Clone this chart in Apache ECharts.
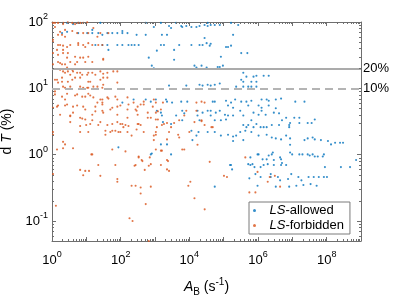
<!DOCTYPE html>
<html><head><meta charset="utf-8">
<script src="https://cdn.jsdelivr.net/npm/echarts@6/dist/echarts.min.js"></script>
<style>html,body{margin:0;padding:0;background:#fff}#c{width:399px;height:299px}</style>
</head><body><div id="c"></div>
<script>
// LS-allowed transitions: [A_B (s^-1), dT (%)]
const allowed = [
[2.75,97],[4.1,93],[5.8,97],[25.6,97],[537,97],[924,84],[1486,97],[2563,87],[2937,81],[4129,97],[5800,87],[6213,84],[8160,87],[1.15e4,84],[1.61e4,84],[1.98e4,87],[2.78e4,90],[3.42e4,87],[3.42e4,97],[4.19e4,90],[5.5e4,90],[7.7e4,90],[1.64e5,97],[2.65e5,90],[1.88e5,64],
[1.96,68],[2.75,71],[5.8,68],[10.6,68],[14.9,68],[14.9,76],[22.3,68],[29.3,64],[41,68],[57,68],[80,68],[112,68],[158,68],[112,73],[291,64],[537,64],[1592,64],[2237,64],
[18.3,45],[29.3,45],[41,45],[80,45],[112,45],[169,45],[208,45],[254,45],[334,45],[1486,45],[1824,45],[5067,45],[1.15e4,45],[1.98e4,45],[2.43e4,45],[3.19e4,48],[2.78e4,57.5],[4.19e4,47],[3.92e4,44],[1.17e5,42],[1.34e5,42],[1.64e5,44],[44,38],
[1133,37],[3603,38],[658,29],[3603,27],[8.3e4,30],[3.25e5,34],[4.9e5,34],
[807,22],[924,20],[1.41e4,22],[2.27e4,22],[1.61e4,20.5],[3.19e4,20.5],[6.7e4,21],[7.7e4,21],[9.5e4,22],
[3.73e5,17.2],[3.25e5,13.5],[3.73e5,12.6],[4.6e5,15],[7.4e5,15],[9.0e5,15.5],[1.46e6,15.5],[2.05e6,15.5],[6.4e5,12.6],[9.0e5,12.6],
[2563,11],[8160,11],[1.98e4,11.3],[2.43e4,11],[3.42e4,11.3],[4.19e4,11],[5.5e4,11.3],[7.7e4,11.8],[2.31e5,10.6],[3.73e5,10.6],[5.2e5,10.6],[6.4e5,10.6],[9.0e5,10.6],
[112,6.1],[238,6.8],[537,6.8],[754,6.3],[1058,6.8],[2090,6.8],[2237,6.3],[3144,6.1],[5800,6.3],[8730,6.3],[1133,4.6],[1486,4.3],[1592,3.9],[4129,3.9],[6213,4.6],[7120,4.2],[1.73e4,4.6],[2.43e4,4.3],[1.73e4,3.9],[3.42e4,4.6],[1.98e4,3.3],[6213,3.3],[1704,3.1],[2937,2.9],[1.15e4,2.3],[1.61e4,1.94],[1.23e4,1.66],[1.85e4,2.2],[3.42e4,2.2],[1486,1.43],[2237,1.43],[2937,1.01],[754,1.01],[807,1.04],[86,1.29],
[4.8e4,6.3],[5.5e4,6.3],[1.17e5,6.5],[1.64e5,6.1],[2.16e5,6.8],[3.25e5,6.3],[4.6e5,6.3],[6.4e5,6.5],[1.27e6,6.8],[1.79e6,6.8],[2.05e6,6.5],[3.3e6,6.8],[4.7e6,7.0],[1.34e5,5.5],[1.88e5,5.1],[5.2e5,5.5],[1.04e6,5.5],[1.27e6,5.1],[2.05e6,5.5],[3.3e6,5.0],
[4.19e4,4.6],[5.9e4,4.3],[7.7e4,4.6],[1.09e5,4.0],[1.34e5,3.9],[1.88e5,3.9],[3.04e5,4.6],[3.73e5,3.9],[7.4e5,4.3],[1.04e6,4.0],[1.27e6,4.6],[1.67e6,4.0],[2.89e6,4.3],[4.1e6,4.2],[6.6e6,3.6],
[4.19e4,3.9],[5.5e4,3.3],[8.3e4,3.3],[1.17e5,3.4],[6.4e5,3.3],[9.0e5,2.9],[5.0e6,3.3],[3.73e5,2.8],[4.6e5,2.6],[5.2e5,2.8],[7.4e5,2.6],[1.19e6,2.6],[1.46e6,2.6],[1.79e6,2.6],[2.52e6,2.8],[4.1e6,2.8],[8.1e6,2.8],
[5.5e4,2.2],[8.3e4,1.94],[1.34e5,2.0],[1.88e5,1.88],[2.31e5,1.94],[3.04e5,2.2],[4.27e5,2.3],[6.4e5,2.2],[1.04e6,1.94],[1.79e6,2.0],[2.52e6,1.82],[3.3e6,1.76],[4.7e6,1.7],[6.6e6,1.94],[1.88e5,1.61],[3.73e5,1.66],
[1.04e6,1.01],[2.05e6,0.97],[2.52e6,1.01],[1.79e6,0.85],[2.89e6,0.83],[5.2e5,0.72],[6.0e5,0.70],[1.64e5,0.70],[1.46e6,0.70],[2.89e6,0.70],[4.7e6,0.70],[5.0e6,0.75],[6.6e6,0.70],
[1.22e7,6.3],[2.26e7,6.3],[1.14e7,3.6],[1.6e7,3.6],[8.6e6,3.0],[1.6e7,3.0],[2.8e7,3.0],[3.65e7,3.0],[4.5e7,3.4],[8.1e6,2.6],[8.6e6,1.76],[2.26e7,1.66],[2.8e7,1.76],[3.9e7,1.82],[4.5e7,1.7],[6.8e7,1.66],[1.09e8,1.61],[1.34e8,1.43],[1.76e8,1.51],[2.45e8,1.51],[3.0e8,1.51],[8.6e6,1.41],
[8.6e6,1.08],[9.9e6,1.01],[1.6e7,1.01],[1.97e7,1.01],[2.8e7,1.01],[3.9e7,1.01],[3.2e7,0.97],[4.5e7,0.94],[5.5e7,0.94],[7.7e7,0.94],[8.3e7,1.01],[8.9e7,0.65],[2.6e8,0.65],[4.8e8,0.65],[7.2e8,0.83],
[9.7e5,1.01],[2.7e6,1.08],[4.7e6,0.85],[6.0e5,0.91],[6.9e5,0.72],[1.92e6,0.72],[7.9e5,0.65],[1.19e6,0.65],[5.6e5,0.44],[8.4e5,0.51],[1.19e6,0.46],[2.35e6,0.46],[2.35e6,0.51],[3.8e6,0.46],[4.4e6,0.41],[7.5e6,0.43],[9.3e6,0.51],[1.5e7,0.46],[1.84e7,0.41],[2.97e7,0.46],[4.2e7,0.46],[5.9e7,0.46],[8.3e7,0.46],[1.02e8,0.46],
[1.31e7,0.34],[2.1e7,0.35],[3.4e7,0.36],[5.1e7,0.34],[5.5e4,0.33],[9.7e5,0.34],[8.1e6,0.33],[3.3e6,0.33],[1.53e5,0.70],[1.76e5,0.60],[1.36e6,0.85],[4.4e6,0.91]
];
// LS-forbidden transitions: [A_B (s^-1), dT (%)]
const forbidden = [
[1.07,97],[1.22,97],[1.5,97],[2.1,97],[2.9,99],[3.9,97],[4.7,93],[5.8,97],[6.6,97],[8.1,97],[10.6,99],[1.22,84],[2.1,93],
[1.72,71],[2.4,76],[3.9,73],[5.4,68],[8.1,68],[11.4,68],[16,81],[21,60],[25.6,68],[44,68],[1.5,64],[1.96,64],[2.4,60],[1.07,54],[1.07,50],
[1.5,45],[1.72,45],[2.1,44],[2.75,42],[3.4,45],[5.8,48],[5.8,45],[8.1,45],[9.3,42],[11.4,48],[14.9,45],[22.3,45],[29.3,45],[1.4,38],[2.1,38],
[1.07,34],[1.5,32],[2.1,34],[2.9,34],[2.75,29],[4.7,30],[6.6,29],[8.1,29],[11.4,30],[31,28],[31,27],[1.5,25],[1.72,24],[3.4,25],[5.4,25],[9.3,25],[14.9,25],
[1.07,23],[1.96,23],[2.4,23],[4.7,23],[2.75,20.5],[1.72,19],[3.9,19],[2.1,18],[2.9,18],[2.4,17.2],[4.1,18],[5.4,17.2],[6.6,17.2],[3.4,16],[7.6,16],[10.6,16],[11.4,17.2],[14.9,17.2],[18.3,16],[25.6,18],[31,16.6],[41,17.2],[61,18],[80,18],
[1.4,13.5],[1.22,13.5],[1.96,14.5],[1.96,12.6],[2.9,12.6],[3.9,13.5],[4.7,14.5],[6.6,14.5],[11.4,12.6],[13,12.6],[25.6,13.5],[31,14.5],[41,14.5],[1.5,12.2],
[2.1,10.6],[2.4,10.2],[3.4,10.6],[6.6,10.6],[8.1,10.2],[10.6,10.2],[11.4,10.2],[16,10.6],[21,10.6],[29.3,10.2],[31,11.3],[80,12.2],
[1.22,9.0],[1.22,8.1],[1.96,7.5],[2.75,8.3],[4.7,7.8],[5.4,8.1],[7.6,7.5],[9.3,7.5],[11.4,8.3],[13,7.8],[16,7.3],[25.6,6.8],[29.3,6.8],[41,7.3],[44,7.0],[70,7.5],[80,6.8],[158,7.3],[2.4,6.8],
[1.07,5.1],[1.4,5.3],[1.5,5.5],[2.4,5.5],[2.75,5.7],[4.1,5.3],[5.4,5.5],[8.1,5.3],[9.3,4.8],[18.3,5.3],[21,6.1],[29.3,6.1],[29.3,5.7],[50,4.8],[57,5.1],[80,5.3],[98,5.5],[158,4.8],[169,5.7],[238,6.1],[312,5.3],[382,5.7],[469,6.3],[469,5.7],[863,5.3],[924,6.8],[1058,6.1],[1704,6.1],[1486,4.8],[272,4.8],[291,4.6],
[1.72,4.0],[3.4,3.8],[4.1,4.3],[3.4,3.9],[6.6,3.6],[7.6,3.5],[9.3,3.4],[14.9,4.0],[18.3,4.5],[29.3,4.6],[31,4.3],[80,4.0],[158,3.6],[312,4.0],[615,4.3],[1058,4.3],[1213,4.5],[615,3.6],[754,3.6],[1058,3.4],[1213,3.4],
[3.4,3.1],[6.6,2.7],[9.9,2.8],[13,2.9],[14.9,3.3],[22.3,2.8],[25.6,3.1],[41,2.8],[57,2.9],[80,3.1],[98,2.9],[112,2.9],[138,2.8],[120,2.6],[169,2.7],[312,2.9],[334,2.9],[382,2.8],[291,2.4],[1133,2.6],[1592,2.8],[1824,2.9],[2237,3.0],[2937,2.6],[3603,3.0],[5067,3.3],[7120,3.9],[8160,4.6],[1.61e4,4.6],[1.41e4,3.1],[2.27e4,3.3],[2.78e4,2.8],[2.78e4,6.1],[1.61e4,6.1],[4.8e4,2.6],[2.27e4,6.3],[2.27e4,3.2],[4.4e4,2.6],
[1.07,2.0],[1.07,2.2],[6.6,2.2],[11.4,2.2],[36,2.3],[57,2.3],[70,2.3],[50,2.2],[86,2.2],[98,2.2],[158,2.2],[208,1.94],[469,2.2],[924,1.94],[1058,2.0],[1058,2.2],[2563,2.2],[4733,2.0],[5067,1.82],[1.0e4,2.2],[36,2.0],[924,1.66],[2237,1.7],
[2.1,1.56],[2.4,1.43],[1.4,1.2],[2.1,1.25],[4.1,1.25],[57,1.2],[138,1.12],[14.9,1.01],[14,1.01],[1.73e4,1.41],[7120,1.2],[1592,1.15],[1058,1.2],[1486,1.15],[6213,1.2],
[334,0.91],[409,0.83],[754,0.72],[272,0.70],[2237,0.83],[1486,0.70],[334,0.94],[704,0.91],[430,0.80],[254,0.68],[658,0.68],[22.3,0.70],[70,0.70],[2394,0.80],[2237,0.60],[2563,0.57],[502,0.59],
[6.6,0.59],[8.1,0.49],[9.3,0.57],[12,0.57],[25.6,0.48],[80,0.43],[80,0.39],[208,0.34],[272,0.34],[382,0.32],[382,0.26],[754,0.33],[9350,0.34],[1.07e4,0.39],[1.41e4,0.22],[537,0.18],[1.07,0.51],[1.3,0.17],[181,0.11],[222,0.10],[658,0.05],
[3.92e4,0.78],[1.02e5,0.48],[1.25e5,0.46],[4.27e5,0.91],[9.7e5,0.55],[2.2e6,0.46],[3.1e6,0.48],[1.92e6,0.39],[5.6e5,0.27],[8.4e5,0.27],[2.8e4,0.15],[4.4e6,0.33]
];
const seriesNames = ['LS-allowed', 'LS-forbidden'];
const refLineValues = [20, 10];
const refLineLabels = ['20%', '10%'];
const xRange = [1, 1e9];
const yRange = [0.05, 100];
const xLabelStep = 2;   // label every 2nd decade on x
const yLabelStep = 1;   // label every decade on y

const FONT = 'Liberation Sans, Arial, Helvetica, sans-serif';
const AX = '#6e6e6e';

function powLabel(step) {
  return function (v) {
    const e = Math.log10(v);
    const r = Math.round(e);
    if (Math.abs(e - r) > 1e-6 || r % step !== 0) return '';
    return '{b|10}{s|' + r + '}';
  };
}
const labelRich = {
  b: { fontSize: 13, fontFamily: FONT, color: '#000', lineHeight: 20, verticalAlign: 'middle' },
  s: { fontSize: 9, fontFamily: FONT, color: '#000', lineHeight: 20, verticalAlign: 'top' }
};

// minor tick positions (2..9 x 10^k) for the log axes
const minorTicks = [];
for (let k = 0; k < 9; k++) for (let m = 2; m <= 9; m++) minorTicks.push([m * Math.pow(10, k), 1, 0]);
for (let k = -2; k < 2; k++) for (let m = 2; m <= 9; m++) { const v = m * Math.pow(10, k); if (v > yRange[0] && v < yRange[1]) minorTicks.push([10, v, 1]); }

const chart = echarts.init(document.getElementById('c'), null, { renderer: 'canvas' });
const baseX = {
  type: 'log', logBase: 10, min: xRange[0], max: xRange[1],
  axisLine: { show: true, lineStyle: { color: AX, width: 1 } },
  axisTick: { show: true, inside: true, length: 4, lineStyle: { color: AX } },
  splitLine: { show: false }
};
const baseY = {
  type: 'log', logBase: 10, min: yRange[0], max: yRange[1],
  axisLine: { show: true, lineStyle: { color: AX, width: 1 } },
  axisTick: { show: true, inside: true, length: 4, lineStyle: { color: AX } },
  splitLine: { show: false }
};

chart.setOption({
  animation: false,
  backgroundColor: '#fff',
  grid: { left: 52, right: 38, top: 22, bottom: 58, containLabel: false, outerBoundsMode: 'none' },
  xAxis: [
    Object.assign({}, baseX, {
      position: 'bottom',
      axisLabel: { show: true, formatter: powLabel(xLabelStep), rich: labelRich, margin: 9, showMinLabel: true, showMaxLabel: true, hideOverlap: false },
      name: '{i|A}{sub|B} (s{sup|-1})', nameLocation: 'middle', nameGap: 36,
      nameTextStyle: { fontSize: 14, fontFamily: FONT, color: '#000',
        rich: { i: { fontStyle: 'italic', fontSize: 14, fontFamily: FONT, color: '#000', lineHeight: 20, verticalAlign: 'middle' },
                sub: { fontSize: 10, fontFamily: FONT, color: '#000', lineHeight: 20, verticalAlign: 'bottom' },
                sup: { fontSize: 10, fontFamily: FONT, color: '#000', lineHeight: 20, verticalAlign: 'top' } } }
    }),
    Object.assign({}, baseX, { position: 'top', axisLabel: { show: false } })
  ],
  yAxis: [
    Object.assign({}, baseY, {
      position: 'left',
      axisLabel: { show: true, formatter: powLabel(yLabelStep), rich: labelRich, margin: 4, hideOverlap: false },
      name: 'd {i|T} (%)', nameLocation: 'middle', nameGap: 38, nameRotate: 90,
      nameTextStyle: { fontSize: 14, fontFamily: FONT, color: '#000',
        rich: { i: { fontStyle: 'italic', fontSize: 14, fontFamily: FONT, color: '#000' } } }
    }),
    Object.assign({}, baseY, { position: 'right', axisLabel: { show: false } })
  ],
  legend: {
    show: true, data: seriesNames, orient: 'vertical', left: 249, top: 202,
    backgroundColor: '#fff', borderColor: '#7a7a7a', borderWidth: 1, borderRadius: 0,
    padding: [2, 6, 2, 4], itemGap: 2, itemWidth: 20, itemHeight: 3, icon: 'circle',
    formatter: function (n) { return n.replace('LS', '{i|LS}'); },
    textStyle: { fontSize: 13, fontFamily: FONT, color: '#000',
      rich: { i: { fontStyle: 'italic', fontSize: 13, fontFamily: FONT, color: '#000' } } }
  },
  series: [
    {
      name: seriesNames[0], type: 'scatter', data: allowed, symbol: 'circle', symbolSize: 2.1,
      itemStyle: { color: '#0072BD' }, xAxisIndex: 0, yAxisIndex: 0, z: 3,
      markLine: {
        silent: true, symbol: 'none', animation: false,
        label: { show: true, position: 'end', color: '#000', fontSize: 13, fontFamily: FONT, distance: 2 },
        data: [
          { yAxis: refLineValues[0], label: { formatter: refLineLabels[0] }, lineStyle: { color: '#ababab', width: 2, type: 'solid' } },
          { yAxis: refLineValues[1], label: { formatter: refLineLabels[1] }, lineStyle: { color: '#b4b4b4', width: 2, type: [8, 5] } }
        ]
      }
    },
    {
      name: seriesNames[1], type: 'scatter', data: forbidden, symbol: 'circle', symbolSize: 2.1,
      itemStyle: { color: '#D95319' }, xAxisIndex: 0, yAxisIndex: 0, z: 4
    },
    {
      name: 'minorTicks', type: 'custom', data: minorTicks, clip: false, silent: true, z: 5,
      xAxisIndex: 0, yAxisIndex: 0, encode: { x: 0, y: 1 },
      renderItem: function (params, api) {
        const kind = api.value(2);
        const st = { stroke: AX, lineWidth: 1 };
        if (kind === 0) {
          const v = api.value(0);
          const pb = api.coord([v, yRange[0]]);
          const pt = api.coord([v, yRange[1]]);
          const x = Math.round(pb[0]) + 0.5;
          return { type: 'group', children: [
            { type: 'line', shape: { x1: x, y1: pb[1], x2: x, y2: pb[1] - 2 }, style: st },
            { type: 'line', shape: { x1: x, y1: pt[1], x2: x, y2: pt[1] + 2 }, style: st }
          ] };
        } else {
          const v = api.value(1);
          const pl = api.coord([xRange[0], v]);
          const pr = api.coord([xRange[1], v]);
          const y = Math.round(pl[1]) + 0.5;
          return { type: 'group', children: [
            { type: 'line', shape: { x1: pl[0], y1: y, x2: pl[0] + 2, y2: y }, style: st },
            { type: 'line', shape: { x1: pr[0], y1: y, x2: pr[0] - 2, y2: y }, style: st }
          ] };
        }
      }
    }
  ]
});
</script></body></html>
